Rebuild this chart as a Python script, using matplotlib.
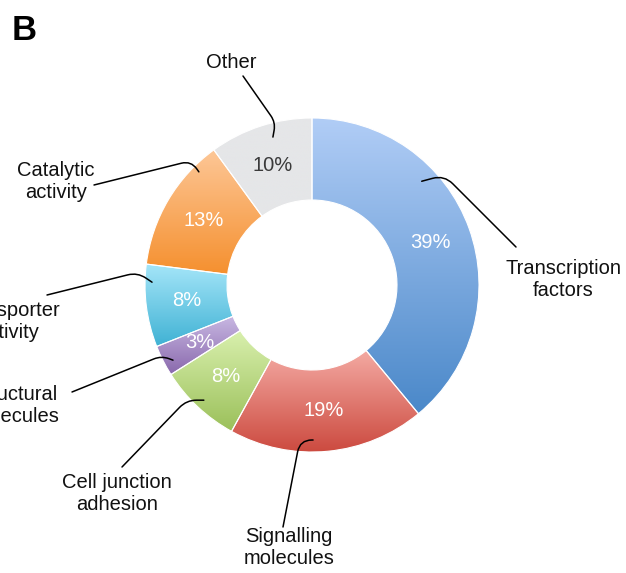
import numpy as np
import matplotlib
matplotlib.use("Agg")
import matplotlib.pyplot as plt
from matplotlib.colors import LinearSegmentedColormap

plt.rcParams['font.family'] = ['Liberation Sans', 'DejaVu Sans']

# Data
categories = ["Transcription\nfactors", "Signalling\nmolecules", "Cell junction\nadhesion",
              "Structural\nmolecules", "Transporter\nactivity", "Catalytic\nactivity", "Other"]
shares = [39, 19, 8, 3, 8, 13, 10]

# gradient colours per slice (top, bottom)
top_colors = ["#b1cdf6", "#f4aaa3", "#d9f0ae", "#c9b9e3", "#a6e6f9", "#fdc797", "#e5e6e8"]
bottom_colors = ["#4a88c9", "#cc4a3f", "#9bc05a", "#8a69ad", "#40b2d4", "#f5902f", "#e5e6e8"]
pct_colors = ["white"] * 6 + ["#3a3a3a"]

# label layout (pixel coords, y from top)
W, H = 626, 573
label_pos = [(563, 280), (289, 548), (117, 493), (14, 405), (8, 321), (56, 182), (231, 62)]
line_start = [(516, 247), (283, 527), (122, 467), (72, 392), (47, 295), (94, 185), (243, 76)]
point_r = [151, 155, 158, 158, 160, 160, 153]
point_ang = [43.4, -89.6, -133.2, -151.6, 179, 135, 104.8]
conn_angles = [(135, 15, 12), (79, 0, 12), (46, 0, 10), (22, 160, 8),
               (14, 146, 10), (14, 125, 10), (-55, 80, 8)]

cx, cy = 312, H - 285
R, ring = 167, 82

fig = plt.figure(figsize=(W / 100, H / 100), dpi=100)
ax = fig.add_axes([0, 0, 1, 1])

wedges, texts, autotexts = ax.pie(
    shares, center=(cx, cy), radius=R, startangle=90, counterclock=False,
    autopct='%.0f%%', pctdistance=126 / R,
    wedgeprops=dict(width=ring, facecolor='none', edgecolor='white', linewidth=0.8),
    textprops=dict(fontsize=14.5),
)

# fill each wedge with a vertical gradient
grad = np.linspace(0, 1, 256).reshape(-1, 1)
for w, c_top, c_bot in zip(wedges, top_colors, bottom_colors):
    ext = w.get_path().get_extents()
    cmap = LinearSegmentedColormap.from_list("g", [c_bot, c_top])
    im = ax.imshow(grad, cmap=cmap, origin='lower', aspect='auto',
                   extent=[ext.x0, ext.x1, ext.y0, ext.y1], zorder=0.5)
    im.set_clip_path(w)

for t, col in zip(autotexts, pct_colors):
    t.set_color(col)

# category labels with curved leader lines
for name, (lx, ly), (sx, sy), r, a, (angA, angB, rad) in zip(
        categories, label_pos, line_start, point_r, point_ang, conn_angles):
    ax.text(lx, H - ly, name, ha='center', va='center', fontsize=14.5,
            color='#111111', linespacing=1.2)
    px = cx + r * np.cos(np.radians(a))
    py = cy + r * np.sin(np.radians(a))
    ax.annotate("", xy=(px, py), xytext=(sx, H - sy),
                arrowprops=dict(arrowstyle='-', color='black', lw=1.1,
                                shrinkA=0, shrinkB=0,
                                connectionstyle=f"angle,angleA={angA},angleB={angB},rad={rad}"))

ax.text(12, H - 40, "B", fontsize=25, fontweight='bold', ha='left', va='baseline')

ax.set_xlim(0, W)
ax.set_ylim(0, H)
ax.axis('off')

fig.savefig("out.png", dpi=100)
